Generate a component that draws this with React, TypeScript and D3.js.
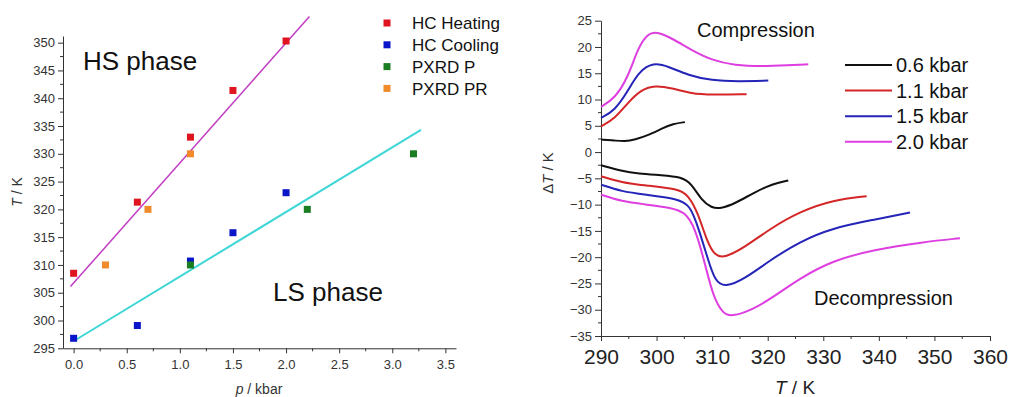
import React, { useRef, useEffect } from 'react';
import * as d3 from 'd3';

// left panel: transition temperature vs pressure
const heatP = [0, 0.6, 1.1, 1.5, 2.0];
const heatT = [308.5, 321.3, 333.0, 341.4, 350.3];
const coolP = [0, 0.6, 1.1, 1.5, 2.0];
const coolT = [296.8, 299.1, 310.7, 315.8, 323.0];
const pxrdPP = [1.1, 2.2, 3.2];
const pxrdPT = [310, 320, 330];
const pxrdPRP = [0.3, 0.7, 1.1];
const pxrdPRT = [310, 320, 330];
// linear fits (end points)
const hsFit = [[-0.03, 306.1], [2.22, 354.7]];
const lsFit = [[0.01, 296.4], [3.27, 334.3]];
const leftLegend = ['HC Heating', 'HC Cooling', 'PXRD P', 'PXRD PR'];
const leftYTicks = [295, 300, 305, 310, 315, 320, 325, 330, 335, 340, 345, 350];
const leftXTicks = [0, 0.5, 1.0, 1.5, 2.0, 2.5, 3.0, 3.5];

// right panel: dT vs T (compression / decompression)
const pressures = ['0.6 kbar', '1.1 kbar', '1.5 kbar', '2.0 kbar'];
const compT = [
  [290, 292.5, 294.3, 296.1, 298.5, 300.9, 303, 305.1],
  [290, 292.5, 294.9, 297.3, 299.7, 302.7, 306.3, 309.9, 316.2],
  [290, 292.5, 294.9, 296.7, 299.4, 302.1, 305.7, 309.9, 314.7, 320.1],
  [290, 292.5, 294.9, 296.7, 298.5, 300, 302.7, 306.3, 309.9, 314.1, 318.9, 323.7, 327.3],
];
const compDT = [
  [2.4, 2.2, 2.0, 2.35, 3.2, 4.45, 5.4, 5.7],
  [4.9, 6.35, 9.5, 11.9, 12.7, 12.2, 11.1, 10.9, 11.0],
  [6.5, 7.9, 11.7, 15.2, 17.1, 16.3, 14.6, 13.6, 13.45, 13.6],
  [8.6, 10.2, 14.3, 20.0, 22.6, 22.9, 21.7, 19.4, 17.5, 16.5, 16.3, 16.5, 16.7],
];
const decT = [
  [290, 293.7, 296.7, 300.9, 304.5, 306.3, 308.1, 309.9, 311.5, 314.1, 317.7, 321, 323.7],
  [290, 293.7, 297.9, 303.9, 305.7, 307.5, 309, 310.5, 312.3, 315.9, 320.4, 325.8, 331.8, 337.8],
  [290, 293.7, 297.9, 303.9, 306, 307.5, 309.3, 310.5, 312.3, 315.9, 320.4, 325.8, 331.8, 339, 345.6],
  [290, 293.7, 297.9, 302.7, 305.1, 306.9, 308.7, 310.2, 312, 313.5, 317.1, 321, 325.8, 331.8, 339, 348, 354.6],
];
const decDT = [
  [-2.5, -3.6, -4.1, -4.4, -4.75, -6.0, -9.2, -10.6, -10.8, -9.8, -7.6, -6.0, -5.4],
  [-4.6, -5.8, -6.35, -7.0, -8.2, -11.7, -16.8, -19.8, -20.1, -18.1, -14.6, -11.3, -9.1, -8.4],
  [-6.2, -7.5, -8.1, -8.9, -10.1, -14.3, -20.6, -24.5, -25.8, -24.1, -20.6, -17.0, -14.4, -12.9, -11.5],
  [-8.1, -9.4, -9.95, -10.6, -11.4, -14.3, -21.2, -27.6, -30.8, -31.3, -30.1, -27.6, -24.0, -20.6, -18.6, -17.1, -16.4],
];
const rightYTicks = [-35, -30, -25, -20, -15, -10, -5, 0, 5, 10, 15, 20, 25];
const rightXTicks = [290, 300, 310, 320, 330, 340, 350, 360];

const FONT = 'Liberation Sans, Arial, sans-serif';

const App = () => {
  const svgRef = useRef(null);

  useEffect(() => {
    const svg = d3.select(svgRef.current);
    svg.selectAll('*').remove();
    svg.style('font-family', FONT);

    // ---------- left panel ----------
    const x1 = d3.scaleLinear().domain([-0.1, 3.6]).range([63, 456]);
    const y1 = d3.scaleLinear().domain([295, 351.2]).range([348.3, 36]);
    const left = svg.append('g');

    const yAx1 = left.append('g')
      .attr('transform', `translate(${x1.range()[0]},0)`)
      .call(d3.axisLeft(y1).tickValues(leftYTicks).tickSize(5).tickSizeOuter(0).tickPadding(3).tickFormat(d3.format('d')));
    // minor ticks
    left.append('g').selectAll('line')
      .data(d3.range(297.5, 351, 5))
      .enter().append('line')
      .attr('x1', 63).attr('x2', 60)
      .attr('y1', d => y1(d)).attr('y2', d => y1(d))
      .attr('stroke', '#333');
    const xAx1 = left.append('g')
      .attr('transform', `translate(0,${y1.range()[0]})`)
      .call(d3.axisBottom(x1).tickValues(leftXTicks).tickSize(5).tickSizeOuter(0).tickPadding(6).tickFormat(d3.format('.1f')));
    left.append('g').selectAll('line')
      .data(d3.range(0.25, 3.6, 0.5))
      .enter().append('line')
      .attr('x1', d => x1(d)).attr('x2', d => x1(d))
      .attr('y1', 348.3).attr('y2', 351.3)
      .attr('stroke', '#333');
    [yAx1, xAx1].forEach(a => {
      a.selectAll('text').attr('font-size', 13).attr('fill', '#333').attr('font-family', FONT);
      a.selectAll('path,line').attr('stroke', '#333');
    });

    // fit lines
    const fitLine = d3.line().x(d => x1(d[0])).y(d => y1(d[1]));
    left.append('path').datum(hsFit).attr('d', fitLine)
      .attr('stroke', '#c23cc2').attr('stroke-width', 1.5).attr('fill', 'none');
    left.append('path').datum(lsFit).attr('d', fitLine)
      .attr('stroke', '#3fd6d6').attr('stroke-width', 2).attr('fill', 'none');

    // points
    const sets = [
      { p: heatP, t: heatT, c: '#e0141e' },
      { p: coolP, t: coolT, c: '#0a14c8' },
      { p: pxrdPP, t: pxrdPT, c: '#1a7d22' },
      { p: pxrdPRP, t: pxrdPRT, c: '#f08a2a' },
    ];
    const sz = 7;
    sets.forEach(s => {
      left.append('g').selectAll('rect')
        .data(s.p.map((p, i) => [p, s.t[i]]))
        .enter().append('rect')
        .attr('x', d => x1(d[0]) - sz / 2)
        .attr('y', d => y1(d[1]) - sz / 2)
        .attr('width', sz).attr('height', sz)
        .attr('fill', s.c);
    });

    // legend
    const leg1 = left.selectAll('.leg1')
      .data(leftLegend)
      .enter().append('g')
      .attr('transform', (d, i) => `translate(387,${23 + i * 21.8})`);
    leg1.append('rect')
      .attr('x', -3.5).attr('y', -3.5).attr('width', 7).attr('height', 7)
      .attr('fill', (d, i) => sets[i].c);
    leg1.append('text')
      .attr('x', 25).attr('dy', '0.36em')
      .attr('font-size', 17).attr('fill', '#111')
      .text(d => d);

    left.append('text').attr('x', 83).attr('y', 70).attr('font-size', 26).attr('fill', '#111').text('HS phase');
    left.append('text').attr('x', 273).attr('y', 301).attr('font-size', 26).attr('fill', '#111').text('LS phase');

    const xl = left.append('text').attr('x', 259).attr('y', 394).attr('text-anchor', 'middle')
      .attr('font-size', 14).attr('fill', '#333');
    xl.append('tspan').attr('font-style', 'italic').text('p');
    xl.append('tspan').text(' / kbar');
    const yl = left.append('text').attr('transform', 'translate(22,192) rotate(-90)')
      .attr('text-anchor', 'middle').attr('font-size', 14).attr('fill', '#333');
    yl.append('tspan').attr('font-style', 'italic').text('T');
    yl.append('tspan').text(' / K');

    // ---------- right panel ----------
    const x2 = d3.scaleLinear().domain([290, 360]).range([601, 990]);
    const y2 = d3.scaleLinear().domain([-35, 25]).range([336, 20.7]);
    const right = svg.append('g');

    const yAx2 = right.append('g')
      .attr('transform', 'translate(601,0)')
      .call(d3.axisLeft(y2).tickValues(rightYTicks).tickSize(6).tickSizeOuter(0).tickPadding(3).tickFormat(d3.format('d')));
    right.append('g').selectAll('line')
      .data(d3.range(-32.5, 25, 5))
      .enter().append('line')
      .attr('x1', 601).attr('x2', 598)
      .attr('y1', d => y2(d)).attr('y2', d => y2(d))
      .attr('stroke', '#333');
    const xAx2 = right.append('g')
      .attr('transform', 'translate(0,336)')
      .call(d3.axisBottom(x2).tickValues(rightXTicks).tickSize(5).tickSizeOuter(0).tickPadding(8).tickFormat(d3.format('d')));
    right.append('g').selectAll('line')
      .data(d3.range(295, 360, 10))
      .enter().append('line')
      .attr('x1', d => x2(d)).attr('x2', d => x2(d))
      .attr('y1', 336).attr('y2', 339)
      .attr('stroke', '#333');
    yAx2.selectAll('text').attr('font-size', 13).attr('fill', '#333').attr('font-family', FONT);
    xAx2.selectAll('text').attr('font-size', 21).attr('fill', '#222').attr('font-family', FONT);
    [yAx2, xAx2].forEach(a => a.selectAll('path,line').attr('stroke', '#333'));

    const colors = ['#111111', '#d42626', '#2424b8', '#de3ee0'];
    const curve = d3.line().x(d => x2(d[0])).y(d => y2(d[1])).curve(d3.curveBasis);
    pressures.forEach((p, i) => {
      right.append('path')
        .datum(compT[i].map((t, j) => [t, compDT[i][j]]))
        .attr('d', curve).attr('fill', 'none')
        .attr('stroke', colors[i]).attr('stroke-width', 2);
      right.append('path')
        .datum(decT[i].map((t, j) => [t, decDT[i][j]]))
        .attr('d', curve).attr('fill', 'none')
        .attr('stroke', colors[i]).attr('stroke-width', 2);
    });

    const leg2 = right.selectAll('.leg2')
      .data(pressures)
      .enter().append('g')
      .attr('transform', (d, i) => `translate(845,${65 + i * 25.6})`);
    leg2.append('line').attr('x1', 0).attr('x2', 47)
      .attr('stroke', (d, i) => colors[i]).attr('stroke-width', 2);
    leg2.append('text').attr('x', 51).attr('dy', '0.36em')
      .attr('font-size', 20).attr('fill', '#111').text(d => d);

    right.append('text').attr('x', 697).attr('y', 37).attr('font-size', 20).attr('fill', '#111').text('Compression');
    right.append('text').attr('x', 814).attr('y', 305).attr('font-size', 20).attr('fill', '#111').text('Decompression');

    const xl2 = right.append('text').attr('x', 795).attr('y', 394).attr('text-anchor', 'middle')
      .attr('font-size', 19).attr('fill', '#222');
    xl2.append('tspan').attr('font-style', 'italic').text('T');
    xl2.append('tspan').text(' / K');
    const yl2 = right.append('text').attr('transform', 'translate(553,173) rotate(-90)')
      .attr('text-anchor', 'middle').attr('font-size', 15).attr('fill', '#333');
    yl2.append('tspan').text('Δ');
    yl2.append('tspan').attr('font-style', 'italic').text('T');
    yl2.append('tspan').text(' / K');
  }, []);

  return (
    <svg ref={svgRef} width={1010} height={397}
      style={{ position: 'absolute', left: 0, top: 0, background: '#fff' }}></svg>
  );
};

export default App;
